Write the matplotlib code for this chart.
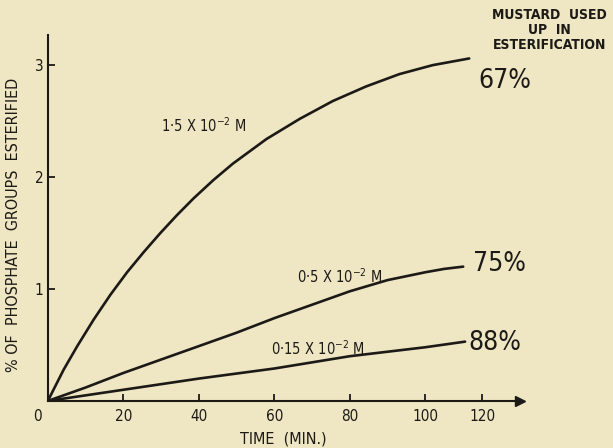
import matplotlib.pyplot as plt
from matplotlib import font_manager

# values (time in min, % of phosphate groups esterified)
t_high = [0, 4.2, 7.8, 12.2, 16.6, 21, 25.4, 29.8, 34.2, 38.6, 43.9,
          49, 57.9, 66.7, 75.5, 84.3, 93.1, 101.9, 111.6]
y_high = [0, 0.28, 0.49, 0.73, 0.95, 1.15, 1.33, 1.5, 1.66, 1.81, 1.975,
          2.12, 2.34, 2.52, 2.68, 2.81, 2.92, 3.0, 3.06]

t_mid = [0, 10, 20, 30, 40, 50, 60, 70, 80, 90, 100, 105, 110]
y_mid = [0, 0.12, 0.25, 0.37, 0.49, 0.61, 0.74, 0.86, 0.98, 1.08, 1.15, 1.18, 1.2]

t_low = [0, 20, 40, 60, 80, 100, 110.5]
y_low = [0, 0.1, 0.2, 0.29, 0.4, 0.48, 0.53]

conc_labels = ["1·5 X 10$^{-2}$ M", "0·5 X 10$^{-2}$ M", "0·15 X 10$^{-2}$ M"]
used_up = ["67%", "75%", "88%"]

# the original drawing puts its "120" tick short of 120 min
xtick_pos = [0, 20, 40, 60, 80, 100, 115]
xtick_labels = ["0", "20", "40", "60", "80", "100", "120"]
ytick_pos = [1, 2, 3]

names = {f.name for f in font_manager.fontManager.ttflist}
family = ["Liberation Sans Narrow"] if "Liberation Sans Narrow" in names else []
family += ["DejaVu Sans"]
plt.rcParams["font.family"] = family
plt.rcParams["font.stretch"] = "condensed"
plt.rcParams["mathtext.default"] = "regular"

bg = "#efe6c4"
ink = "#1c1a16"

fig = plt.figure(figsize=(6.13, 4.48), dpi=100, facecolor=bg)
ax = fig.add_axes([0.078, 0.105, 0.77, 0.817], facecolor=bg)

for t, y in [(t_high, y_high), (t_mid, y_mid), (t_low, y_low)]:
    ax.plot(t, y, color=ink, lw=1.9, solid_capstyle="round", solid_joinstyle="round")

ax.set_xlim(0, 125)
ax.set_ylim(0, 3.27)
for s in ["top", "right"]:
    ax.spines[s].set_visible(False)
for s in ["left", "bottom"]:
    ax.spines[s].set_color(ink)
    ax.spines[s].set_linewidth(1.5)
ax.plot(1, 0, ">", color=ink, ms=7, transform=ax.get_yaxis_transform(), clip_on=False)

ax.set_xticks(xtick_pos)
ax.set_xticklabels(xtick_labels)
ax.set_yticks(ytick_pos)
ax.set_yticklabels([str(v) for v in ytick_pos])
ax.tick_params(direction="in", length=5, width=1.3, colors=ink, labelsize=11, pad=6)
ax.tick_params(axis="y", pad=3)
ax.text(-1.5, -0.07, "0", ha="right", va="top", fontsize=11, color=ink)
ax.xaxis.get_major_ticks()[0].label1.set_visible(False)

ax.set_xlabel("TIME  (MIN.)", fontsize=11.5, color=ink)
ax.xaxis.set_label_coords(0.498, -0.083)
ax.set_ylabel("% OF  PHOSPHATE  GROUPS  ESTERIFIED", fontsize=11.5, color=ink)
ax.yaxis.set_label_coords(-0.056, 0.48)

ax.text(30, 2.46, conc_labels[0], fontsize=10.5, color=ink, va="center")
ax.text(66, 1.11, conc_labels[1], fontsize=10.5, color=ink, va="center")
ax.text(59, 0.47, conc_labels[2], fontsize=10.5, color=ink, va="center")

ax.text(114, 2.86, used_up[0], fontsize=19, color=ink, va="center", clip_on=False)
ax.text(112.5, 1.22, used_up[1], fontsize=19, color=ink, va="center", clip_on=False)
ax.text(111.5, 0.52, used_up[2], fontsize=19, color=ink, va="center", clip_on=False)

fig.text(0.897, 0.982, "MUSTARD  USED\nUP  IN\nESTERIFICATION", ha="center", va="top",
         fontsize=10, color=ink, linespacing=1.1, fontweight="bold")

fig.savefig("out.png", dpi=100, facecolor=bg)
